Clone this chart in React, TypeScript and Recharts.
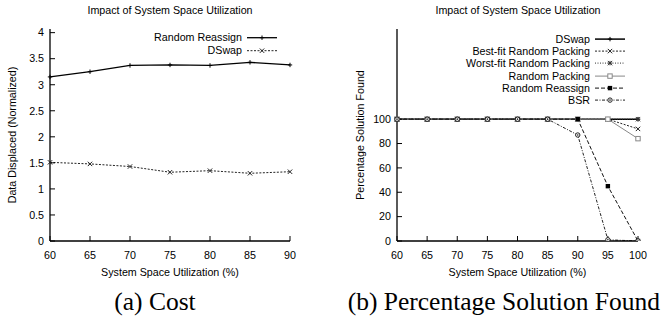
import React from "react";
import { Label, Legend, Line, LineChart, XAxis, YAxis } from "recharts";

// (a) cost
const costUtilization = [60, 65, 70, 75, 80, 85, 90];
const costRandomReassign = [3.15, 3.25, 3.37, 3.38, 3.37, 3.43, 3.38];
const costDSwap = [1.51, 1.48, 1.43, 1.32, 1.35, 1.3, 1.33];
const costTicksX = [60, 65, 70, 75, 80, 85, 90];
const costTicksY = [0, 0.5, 1, 1.5, 2, 2.5, 3, 3.5, 4];

// (b) percentage solution found
const foundUtilization = [60, 65, 70, 75, 80, 85, 90, 95, 100];
const foundDSwap = [100, 100, 100, 100, 100, 100, 100, 100, 100];
const foundBestFit = [100, 100, 100, 100, 100, 100, 100, 100, 92];
const foundWorstFit = [100, 100, 100, 100, 100, 100, 100, 100, 100];
const foundRandomPacking = [100, 100, 100, 100, 100, 100, 100, 100, 84];
const foundRandomReassign = [100, 100, 100, 100, 100, 100, 100, 45, 0];
const foundBSR = [100, 100, 100, 100, 100, 100, 87, 1, 0];
const foundTicksX = [60, 65, 70, 75, 80, 85, 90, 95, 100];
const foundTicksY = [0, 20, 40, 60, 80, 100];

type MarkerKind = "plus" | "cross" | "star" | "box" | "boxFilled" | "circle";

interface SeriesStyle {
  key: string;
  name: string;
  stroke: string;
  width: number;
  dash?: string;
  marker: MarkerKind;
}

const costSeries: SeriesStyle[] = [
  { key: "randomReassign", name: "Random Reassign", stroke: "#000", width: 1.3, marker: "plus" },
  { key: "dswap", name: "DSwap", stroke: "#222", width: 1, dash: "2 1.5", marker: "cross" },
];

const foundSeries: SeriesStyle[] = [
  { key: "dswap", name: "DSwap", stroke: "#000", width: 1.5, marker: "plus" },
  { key: "bestFit", name: "Best-fit Random Packing", stroke: "#222", width: 1, dash: "2 1.5", marker: "cross" },
  { key: "worstFit", name: "Worst-fit Random Packing", stroke: "#333", width: 1, dash: "1 1.5", marker: "star" },
  { key: "randomPacking", name: "Random Packing", stroke: "#888", width: 1, marker: "box" },
  { key: "randomReassign", name: "Random Reassign", stroke: "#111", width: 1, dash: "4 2", marker: "boxFilled" },
  { key: "bsr", name: "BSR", stroke: "#222", width: 1, dash: "3 1.5 1 1.5", marker: "circle" },
];

const costData = costUtilization.map((util, i) => ({
  util,
  randomReassign: costRandomReassign[i],
  dswap: costDSwap[i],
}));

const foundData = foundUtilization.map((util, i) => ({
  util,
  dswap: foundDSwap[i],
  bestFit: foundBestFit[i],
  worstFit: foundWorstFit[i],
  randomPacking: foundRandomPacking[i],
  randomReassign: foundRandomReassign[i],
  bsr: foundBSR[i],
}));

const SANS = '"Liberation Sans", Arial, Helvetica, sans-serif';
const FONT = 10.7;
const tickStyle = { fontSize: FONT, fill: "#000", fontFamily: SANS };
const blank = () => "";

function Marker({ cx, cy, kind, color }: { cx: number; cy: number; kind: MarkerKind; color: string }) {
  const s = 2.2;
  if (cx == null || cy == null) return null;
  switch (kind) {
    case "plus":
      return <path d={`M${cx - s},${cy}H${cx + s}M${cx},${cy - s}V${cy + s}`} stroke={color} strokeWidth={1} fill="none" />;
    case "cross":
      return (
        <path
          d={`M${cx - s},${cy - s}L${cx + s},${cy + s}M${cx - s},${cy + s}L${cx + s},${cy - s}`}
          stroke={color}
          strokeWidth={1}
          fill="none"
        />
      );
    case "star":
      return (
        <path
          d={`M${cx - s},${cy}H${cx + s}M${cx},${cy - s}V${cy + s}M${cx - s},${cy - s}L${cx + s},${cy + s}M${cx - s},${cy + s}L${cx + s},${cy - s}`}
          stroke={color}
          strokeWidth={1}
          fill="none"
        />
      );
    case "box":
      return <rect x={cx - s} y={cy - s} width={2 * s} height={2 * s} fill="#fff" stroke={color} strokeWidth={1} />;
    case "boxFilled":
      return <rect x={cx - s} y={cy - s} width={2 * s} height={2 * s} fill="#000" />;
    case "circle":
      return (
        <g>
          <circle cx={cx} cy={cy} r={s} fill="#fff" stroke={color} strokeWidth={1} />
          <circle cx={cx} cy={cy} r={0.8} fill={color} />
        </g>
      );
  }
  return null;
}

function KeyBox({ series, rowHeight }: { series: SeriesStyle[]; rowHeight: number }) {
  return (
    <div style={{ display: "flex", flexDirection: "column", alignItems: "flex-end" }}>
      {series.map((s) => (
        <div key={s.key} style={{ display: "flex", alignItems: "center", height: rowHeight }}>
          <span style={{ fontFamily: SANS, fontSize: FONT, lineHeight: `${rowHeight}px`, color: "#000", whiteSpace: "nowrap" }}>
            {s.name}
          </span>
          <svg width={32} height={rowHeight} style={{ marginLeft: 4, display: "block" }}>
            <line x1={1} x2={31} y1={rowHeight / 2} y2={rowHeight / 2} stroke={s.stroke} strokeWidth={s.width} strokeDasharray={s.dash} />
            <Marker cx={16} cy={rowHeight / 2} kind={s.marker} color={s.stroke} />
          </svg>
        </div>
      ))}
    </div>
  );
}

function renderLines(series: SeriesStyle[]) {
  return series.map((s) => (
    <Line
      key={s.key}
      type="linear"
      dataKey={s.key}
      name={s.name}
      stroke={s.stroke}
      strokeWidth={s.width}
      strokeDasharray={s.dash}
      dot={(p: any) => <Marker key={`${s.key}-${p.index}`} cx={p.cx} cy={p.cy} kind={s.marker} color={s.stroke} />}
      activeDot={false}
      isAnimationActive={false}
    />
  ));
}

const axisLine = { stroke: "#000", strokeWidth: 1.3 };
const tickLine = { stroke: "#000", strokeWidth: 1 };

function CostChart() {
  return (
    <LineChart width={331} height={290} data={costData} margin={{ top: 29, right: 41, bottom: 4, left: 10 }}>
      <XAxis
        dataKey="util"
        type="number"
        domain={[60, 90]}
        ticks={costTicksX}
        tick={tickStyle}
        tickSize={-5}
        tickMargin={15}
        axisLine={axisLine}
        tickLine={tickLine}
        height={45}
      >
        <Label value="System Space Utilization (%)" position="insideBottom" offset={10} style={{ fontSize: FONT, fill: "#000", fontFamily: SANS }} />
      </XAxis>
      <XAxis
        xAxisId="top"
        orientation="top"
        type="number"
        domain={[60, 90]}
        ticks={costTicksX}
        tickFormatter={blank}
        tickSize={-5}
        axisLine={axisLine}
        tickLine={tickLine}
        height={0}
      />
      <YAxis
        type="number"
        domain={[0, 4.07]}
        allowDataOverflow
        ticks={costTicksY}
        tick={tickStyle}
        tickSize={-5}
        tickMargin={11}
        axisLine={axisLine}
        tickLine={tickLine}
        width={40}
      >
        <Label
          value="Data Displaced (Normalized)"
          angle={-90}
          position="insideLeft"
          offset={2}
          style={{ fontSize: FONT, fill: "#000", fontFamily: SANS, textAnchor: "middle" }}
        />
      </YAxis>
      <YAxis
        yAxisId="right"
        orientation="right"
        type="number"
        domain={[0, 4.07]}
        ticks={costTicksY}
        tickFormatter={blank}
        tickSize={-5}
        axisLine={axisLine}
        tickLine={tickLine}
        width={0}
      />
      <Legend
        layout="horizontal"
        verticalAlign="middle"
        align="center"
        wrapperStyle={{ left: 58, top: 31, width: 220 }}
        content={() => <KeyBox series={costSeries} rowHeight={13.4} />}
      />
      {renderLines(costSeries)}
    </LineChart>
  );
}

function FoundChart() {
  return (
    <LineChart width={332} height={290} data={foundData} margin={{ top: 29, right: 25, bottom: 4, left: 20 }}>
      <XAxis
        dataKey="util"
        type="number"
        domain={[60, 100]}
        ticks={foundTicksX}
        tick={tickStyle}
        tickSize={-5}
        tickMargin={15}
        axisLine={axisLine}
        tickLine={tickLine}
        height={45}
      >
        <Label value="System Space Utilization (%)" position="insideBottom" offset={10} style={{ fontSize: FONT, fill: "#000", fontFamily: SANS }} />
      </XAxis>
      <XAxis
        xAxisId="top"
        orientation="top"
        type="number"
        domain={[60, 100]}
        ticks={foundTicksX}
        tickFormatter={blank}
        tickSize={-5}
        axisLine={axisLine}
        tickLine={tickLine}
        height={0}
      />
      <YAxis
        type="number"
        domain={[0, 174]}
        allowDataOverflow
        ticks={foundTicksY}
        tick={tickStyle}
        tickSize={-5}
        tickMargin={11}
        axisLine={axisLine}
        tickLine={tickLine}
        width={46}
      >
        <Label
          value="Percentage Solution Found"
          angle={-90}
          position="insideLeft"
          offset={9}
          style={{ fontSize: FONT, fill: "#000", fontFamily: SANS, textAnchor: "middle" }}
        />
      </YAxis>
      <YAxis
        yAxisId="right"
        orientation="right"
        type="number"
        domain={[0, 174]}
        ticks={foundTicksY}
        tickFormatter={blank}
        tickSize={-5}
        axisLine={axisLine}
        tickLine={tickLine}
        width={0}
      />
      <Legend
        layout="horizontal"
        verticalAlign="middle"
        align="center"
        wrapperStyle={{ left: 35, top: 33, width: 260 }}
        content={() => <KeyBox series={foundSeries} rowHeight={12.2} />}
      />
      {renderLines(foundSeries)}
    </LineChart>
  );
}

const titleStyle: React.CSSProperties = {
  position: "absolute",
  top: 3,
  textAlign: "center",
  fontFamily: SANS,
  fontSize: FONT,
  lineHeight: "14px",
  color: "#000",
};

const captionStyle: React.CSSProperties = {
  position: "absolute",
  top: 287,
  fontFamily: '"Liberation Serif", "Times New Roman", serif',
  fontSize: 25.5,
  lineHeight: "30px",
  color: "#000",
  whiteSpace: "nowrap",
};

export default function App() {
  return (
    <div style={{ position: "absolute", left: 0, top: 0, width: 663, height: 320, background: "#fff", overflow: "hidden", fontFamily: SANS }}>
      <div style={{ position: "absolute", left: 0, top: 0 }}>
        <CostChart />
      </div>
      <div style={{ position: "absolute", left: 331, top: 0 }}>
        <FoundChart />
      </div>
      <div style={{ ...titleStyle, left: 70, width: 200 }}>Impact of System Space Utilization</div>
      <div style={{ ...titleStyle, left: 418, width: 200 }}>Impact of System Space Utilization</div>
      <div style={{ ...captionStyle, left: 55, width: 200, textAlign: "center" }}>(a) Cost</div>
      <div style={{ ...captionStyle, right: 3, textAlign: "right" }}>(b) Percentage Solution Found</div>
    </div>
  );
}
